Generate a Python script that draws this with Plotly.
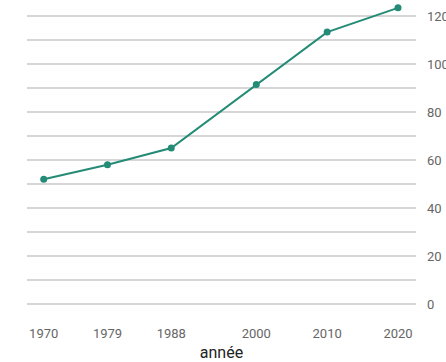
import plotly.graph_objects as go

# Yearly values
years = [1970, 1979, 1988, 2000, 2010, 2020]
values = [52, 58, 65, 91.5, 113.3, 123.4]

y_ticks = [0, 20, 40, 60, 80, 100, 120]

teal = "#238b76"
grid = "#d6d6d6"

fig = go.Figure(
    go.Scatter(
        x=years,
        y=values,
        mode="lines+markers",
        line=dict(color=teal, width=2),
        marker=dict(color=teal, size=7),
        cliponaxis=False,
        hoverinfo="x+y",
    )
)

fig.update_layout(
    width=446,
    height=362,
    margin=dict(l=27, r=30, t=4, b=58, autoexpand=False),
    paper_bgcolor="white",
    plot_bgcolor="white",
    showlegend=False,
    font=dict(family="Roboto, Inter, sans-serif", color="#666666", size=13),
    xaxis=dict(
        range=[1967.64, 2022.54],
        tickvals=years,
        ticktext=[str(y) for y in years],
        showgrid=False,
        zeroline=False,
        showline=False,
        ticks="",
        ticklabelstandoff=20,
        tickfont=dict(size=13, color="#666666"),
        title=dict(text="année", font=dict(size=16, color="#222222"), standoff=9),
        automargin=False,
    ),
    yaxis=dict(
        side="right",
        range=[0, 125],
        tickvals=y_ticks,
        showgrid=True,
        gridcolor=grid,
        gridwidth=1.8,
        zeroline=True,
        zerolinecolor=grid,
        zerolinewidth=1.8,
        showline=False,
        ticks="",
        ticklabelstandoff=10,
        tickfont=dict(size=13, color="#666666"),
        minor=dict(dtick=10, tick0=0, showgrid=True, gridcolor=grid, gridwidth=1.8),
        automargin=False,
    ),
)

fig.write_html("out.html")
